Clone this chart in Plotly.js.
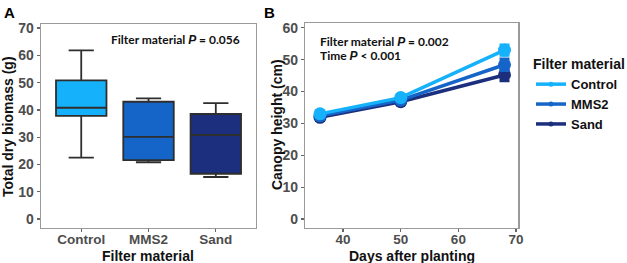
<!DOCTYPE html>
<html>
<head>
<meta charset="utf-8">
<script src="https://cdn.plot.ly/plotly-3.0.1.min.js"></script>
<style>
  html, body { margin: 0; padding: 0; background: #fff; }
  #chart { width: 627px; height: 263px; }
</style>
</head>
<body>
<div id="chart"></div>
<script>
// Panel A: total dry biomass box summaries per filter material
const materials = ['Control', 'MMS2', 'Sand'];
const materialColors = ['#16b1fb', '#1565c9', '#1c2e7e'];
const biomassLowerWhisker = [22.5, 20.8, 15.4];
const biomassQ1 = [37.8, 21.6, 16.6];
const biomassMedian = [40.8, 30.1, 30.8];
const biomassQ3 = [50.8, 43.0, 38.5];
const biomassUpperWhisker = [61.8, 44.2, 42.5];

// Panel B: canopy height over time (mean ± error)
const days = [36, 50, 68];
const heightControl = [33.0, 38.1, 53.0];
const heightMMS2 = [32.4, 37.3, 48.4];
const heightSand = [31.9, 36.8, 45.2];
const errControl = [1.0, 0.8, 1.6];
const errMMS2 = [1.0, 0.8, 1.8];
const errSand = [1.0, 0.8, 1.8];

const sans = 'Liberation Sans, Arial, sans-serif';
const tickFont = { family: sans, size: 14, color: '#4d4d4d', weight: 'bold' };
const xTickFont = { family: sans, size: 13.5, color: '#4d4d4d', weight: 'bold' };
const titleFont = { family: sans, size: 14, color: '#111', weight: 'bold' };
const noteFont = { family: 'Lato, sans-serif', size: 12, color: '#111', weight: 'bold' };
const italicP = '<i><span style="font-family:Liberation Sans">P</span></i>';

const W = 627, H = 263;
const px = v => v / W;
const py = v => 1 - v / H;

const traces = [];

materials.forEach((m, i) => {
  traces.push({
    type: 'box',
    x: [m],
    q1: [biomassQ1[i]],
    median: [biomassMedian[i]],
    q3: [biomassQ3[i]],
    lowerfence: [biomassLowerWhisker[i]],
    upperfence: [biomassUpperWhisker[i]],
    fillcolor: materialColors[i],
    line: { color: '#2e2e2e', width: 1.8 },
    width: 0.75,
    showlegend: false,
    hoverinfo: 'skip',
    xaxis: 'x',
    yaxis: 'y'
  });
});

const heights = [heightControl, heightMMS2, heightSand];
const errs = [errControl, errMMS2, errSand];
// draw Sand first so Control sits on top
[2, 1, 0].forEach(i => {
  traces.push({
    type: 'scatter',
    mode: 'lines+markers',
    name: materials[i],
    x: days,
    y: heights[i],
    error_y: { type: 'data', array: errs[i], color: materialColors[i], thickness: 3, width: 5 },
    line: { color: materialColors[i], width: 3.5 },
    marker: { color: materialColors[i], size: 13 },
    showlegend: false,
    xaxis: 'x2',
    yaxis: 'y2'
  });
});
// legend keys with small markers
[0, 1, 2].forEach(i => {
  traces.push({
    type: 'scatter',
    mode: 'lines+markers',
    name: materials[i],
    x: [null],
    y: [null],
    line: { color: materialColors[i], width: 3.5 },
    marker: { color: materialColors[i], size: 5 },
    showlegend: true,
    xaxis: 'x2',
    yaxis: 'y2'
  });
});

const frame = {
  showline: true, mirror: true, linecolor: '#9a9a9a', linewidth: 1.2,
  ticks: 'outside', ticklen: 3, tickwidth: 1.2, tickcolor: '#666',
  showgrid: false, zeroline: false, tickfont: tickFont
};

const layout = {
  width: W, height: H,
  margin: { l: 0, r: 0, t: 0, b: 0 },
  paper_bgcolor: '#fff', plot_bgcolor: '#fff',
  boxmode: 'overlay',
  xaxis: Object.assign({}, frame, {
    domain: [px(41), px(257)], type: 'category', range: [-0.6, 2.6],
    tickfont: xTickFont, ticklabelstandoff: -4
  }),
  yaxis: Object.assign({}, frame, {
    domain: [1 - 228 / H, 1 - 24 / H], range: [-3.3, 71.5], dtick: 10
  }),
  xaxis2: Object.assign({}, frame, {
    domain: [px(306), px(520)], range: [33.4, 70.4], dtick: 10, anchor: 'y2',
    tickfont: xTickFont, ticklabelstandoff: -4
  }),
  yaxis2: Object.assign({}, frame, {
    domain: [1 - 228 / H, 1 - 23 / H], range: [-2.8, 61.5], dtick: 10, anchor: 'x2'
  }),
  legend: {
    x: px(533), y: py(51), xanchor: 'left', yanchor: 'top',
    title: { text: 'Filter material', font: titleFont },
    font: { family: sans, size: 13, color: '#111', weight: 'bold' },
    traceorder: 'normal', itemwidth: 30, tracegroupgap: 0
  },
  annotations: [
    { xref: 'paper', yref: 'paper', x: px(2), y: py(2), xanchor: 'left', yanchor: 'top',
      text: '<b>A</b>', showarrow: false, font: { family: sans, size: 15, color: '#000' } },
    { xref: 'paper', yref: 'paper', x: px(263), y: py(2), xanchor: 'left', yanchor: 'top',
      text: '<b>B</b>', showarrow: false, font: { family: sans, size: 15, color: '#000' } },
    // axis titles
    { xref: 'paper', yref: 'paper', x: px(148), y: py(256), xanchor: 'center', yanchor: 'middle',
      text: 'Filter material', showarrow: false, font: titleFont },
    { xref: 'paper', yref: 'paper', x: px(8), y: py(126), xanchor: 'center', yanchor: 'middle',
      text: 'Total dry biomass (g)', textangle: -90, showarrow: false, font: titleFont },
    { xref: 'paper', yref: 'paper', x: px(413), y: py(256), xanchor: 'center', yanchor: 'middle',
      text: 'Days after planting', showarrow: false, font: titleFont },
    { xref: 'paper', yref: 'paper', x: px(278), y: py(125), xanchor: 'center', yanchor: 'middle',
      text: 'Canopy height (cm)', textangle: -90, showarrow: false, font: titleFont },
    // statistics notes
    { xref: 'paper', yref: 'paper', x: px(243), y: py(40), xanchor: 'right', yanchor: 'middle',
      text: 'Filter material ' + italicP + ' = 0.056', showarrow: false, font: noteFont },
    { xref: 'paper', yref: 'paper', x: px(319), y: py(41), xanchor: 'left', yanchor: 'middle',
      text: 'Filter material ' + italicP + ' = 0.002', showarrow: false, font: noteFont },
    { xref: 'paper', yref: 'paper', x: px(319), y: py(55), xanchor: 'left', yanchor: 'middle',
      text: 'Time ' + italicP + ' < 0.001', showarrow: false, font: noteFont }
  ]
};

Plotly.newPlot('chart', traces, layout, { staticPlot: true, displayModeBar: false });
</script>
</body>
</html>
